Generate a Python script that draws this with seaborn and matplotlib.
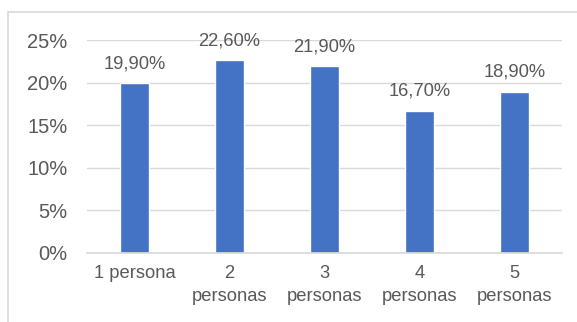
import numpy as np
import pandas as pd
import seaborn as sns
import matplotlib.pyplot as plt
from matplotlib.patches import Rectangle

categories = ["1 persona", "2\npersonas", "3\npersonas", "4\npersonas", "5\npersonas"]
values = [19.9, 22.6, 21.9, 16.7, 18.9]
value_labels = ["19,90%", "22,60%", "21,90%", "16,70%", "18,90%"]
yticks = [0, 5, 10, 15, 20, 25]

sns.set_theme(style="white")
plt.rcParams['font.family'] = ['Liberation Sans', 'DejaVu Sans']

df = pd.DataFrame({"cat": categories, "val": values})

fig = plt.figure(figsize=(5.77, 3.22), dpi=100)
ax = fig.add_axes([87 / 577, 1 - 253 / 322, 475 / 577, 213 / 322])

sns.barplot(data=df, x="cat", y="val", color="#4472C4", saturation=1,
            width=0.315, ax=ax)

gray = "#595959"
ax.set_ylim(0, 25)
ax.set_xlim(-0.5, 4.5)
ax.set_yticks(yticks)
ax.set_yticklabels([f"{t}%" for t in yticks], fontsize=14.5, color=gray)
ax.tick_params(axis="y", length=0, pad=14)
ax.tick_params(axis="x", length=0, pad=9, labelsize=13.2, labelcolor=gray)
for lbl in ax.get_xticklabels():
    lbl.set_linespacing(1.45)
ax.set_xlabel("")
ax.set_ylabel("")
ax.yaxis.grid(True, color="#D9D9D9", linewidth=1)
ax.set_axisbelow(True)
sns.despine(ax=ax, left=True, top=True, right=True, bottom=False)
ax.spines["bottom"].set_color("#D9D9D9")

for i, (v, txt) in enumerate(zip(values, value_labels)):
    ax.annotate(txt, (i, v), xytext=(0, 8), textcoords="offset points",
                ha="center", va="bottom", fontsize=13.2, color=gray)

# chart border (top and left edges visible)
fig.patches.append(Rectangle((8 / 577, -0.1), 1.2, 1 - 12 / 322 + 0.1,
                             transform=fig.transFigure, fill=False,
                             edgecolor="#D9D9D9", linewidth=1.2))

fig.savefig("out.png", dpi=100)
